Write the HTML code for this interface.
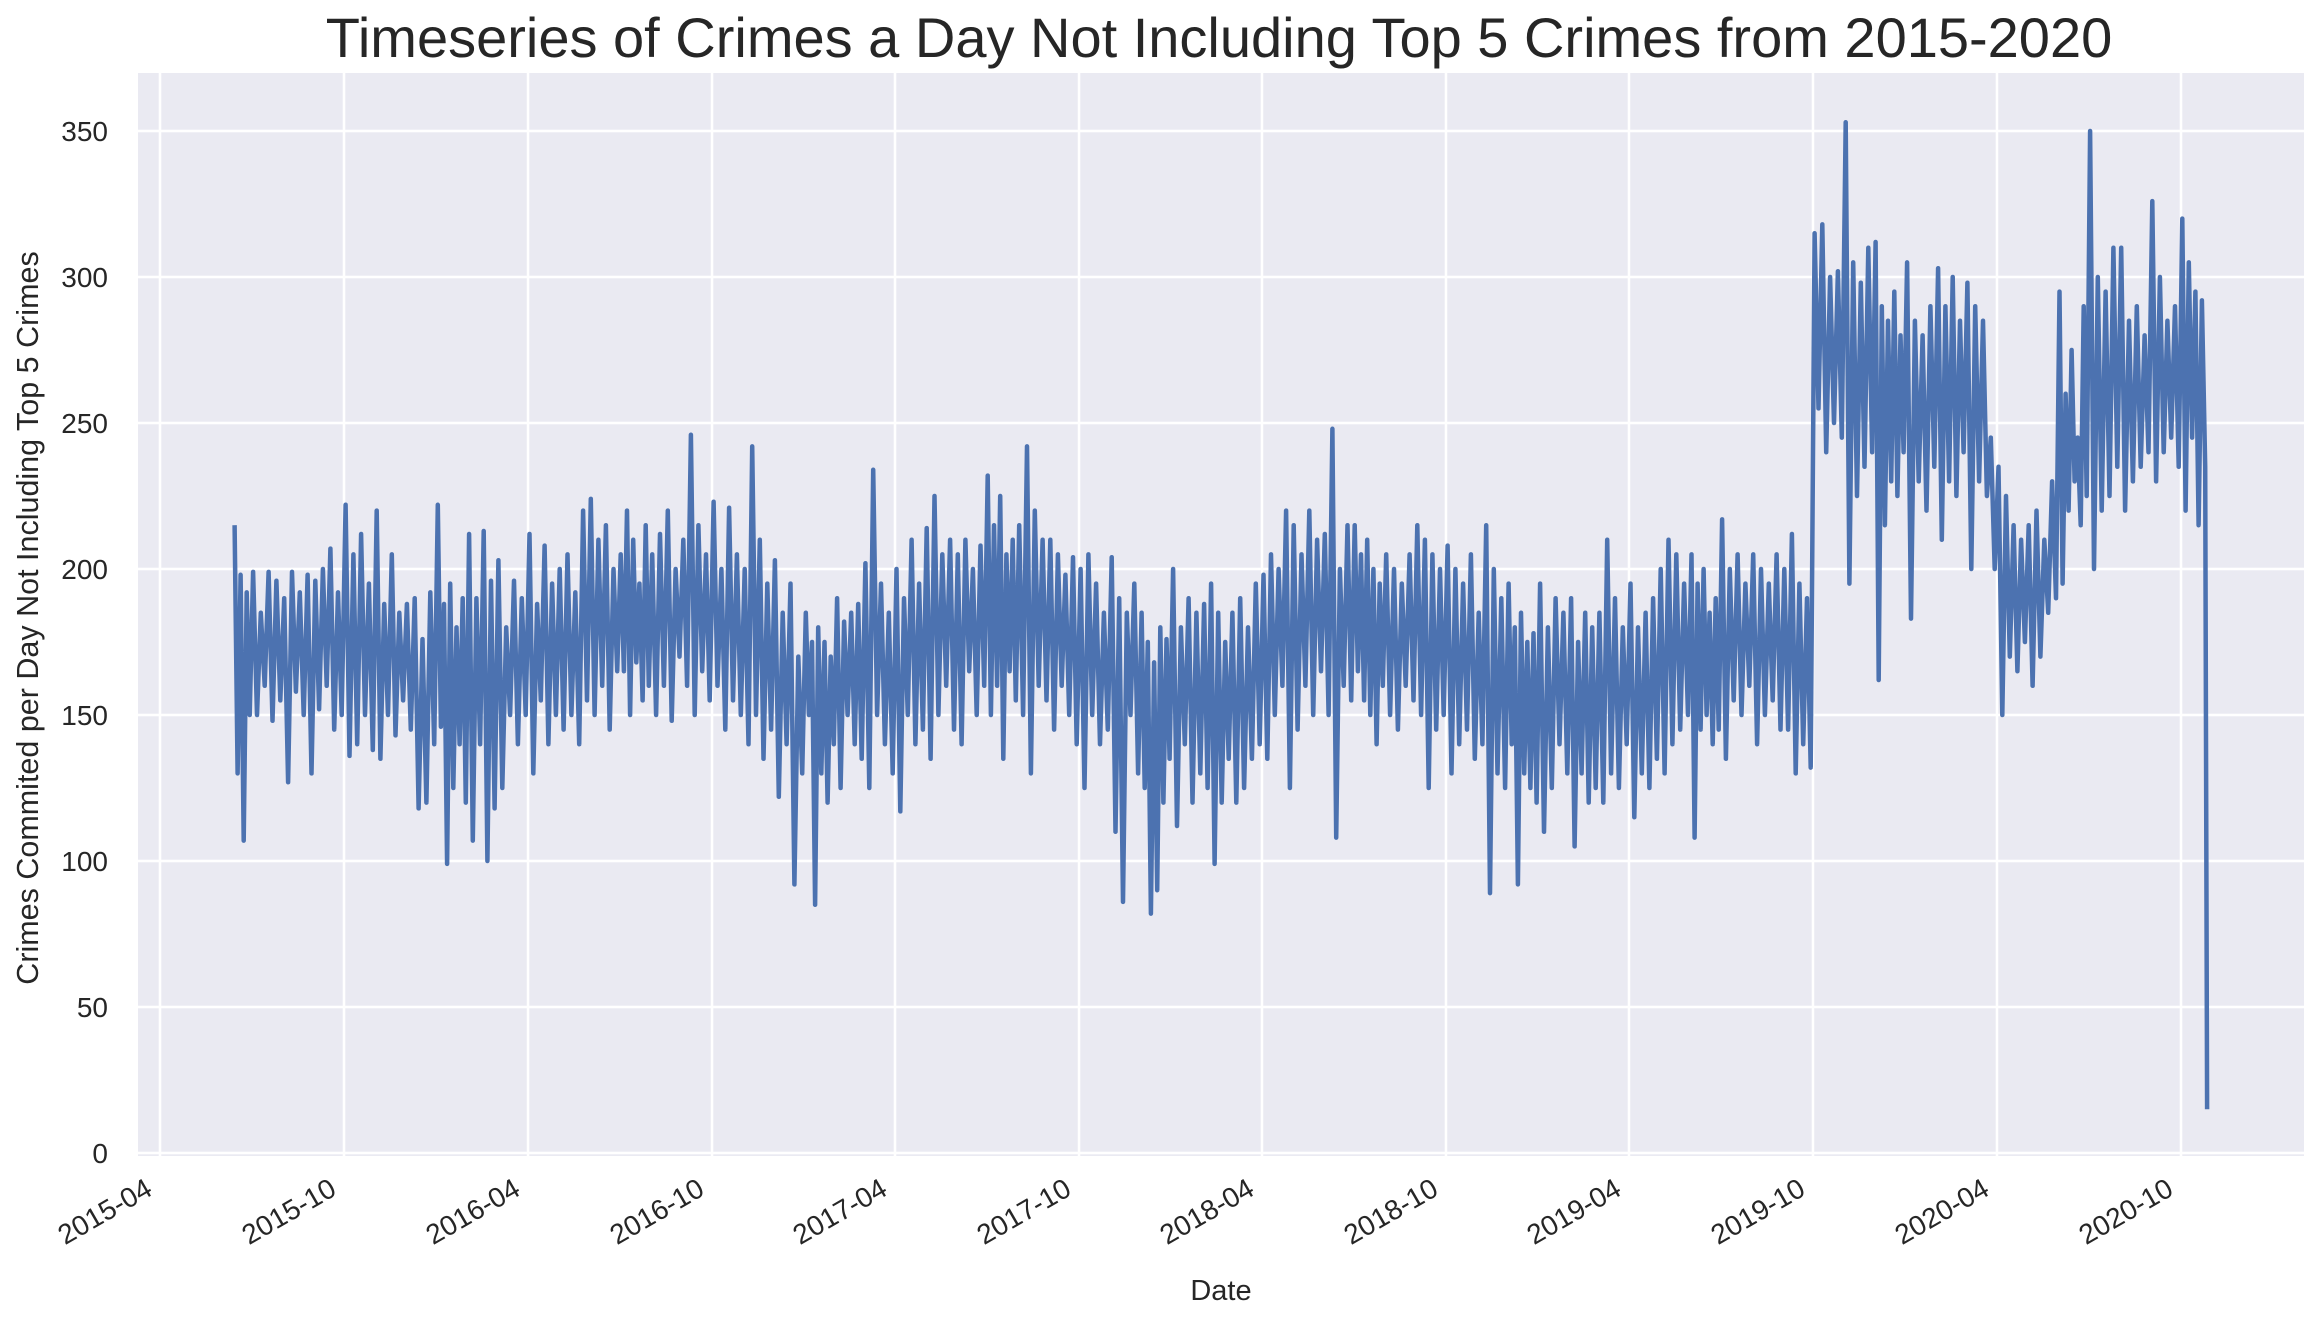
<!DOCTYPE html>
<html><head><meta charset="utf-8"><style>
html,body{margin:0;padding:0;background:#fff;}
svg{display:block;font-family:"Liberation Sans",sans-serif;}
</style></head><body>
<svg id="chart" width="2318" height="1322" viewBox="0 0 2318 1322" xmlns="http://www.w3.org/2000/svg">
<text x="1219" y="57" font-size="56" fill="#262626" text-anchor="middle">Timeseries of Crimes a Day Not Including Top 5 Crimes from 2015-2020</text>
<rect x="138" y="73" width="2166" height="1083" fill="#eaeaf2"/>
<g id="grid"></g>
<g id="ticks"></g>
<path id="series" fill="none" stroke="#4c72b0" stroke-width="4.5" stroke-linejoin="round"/>
<text x="1221" y="1300" font-size="29" fill="#262626" text-anchor="middle">Date</text>
<text x="0" y="0" font-size="30.5" fill="#262626" text-anchor="middle" transform="translate(38,618) rotate(-90)">Crimes Commited per Day Not Including Top 5 Crimes</text>
</svg>
<script>
const yTicks=[0,50,100,150,200,250,300,350];
const xTickLabels=["2015-04","2015-10","2016-04","2016-10","2017-04","2017-10","2018-04","2018-10","2019-04","2019-10","2020-04","2020-10"];
const months=["2015-06","2015-07","2015-08","2015-09","2015-10","2015-11","2015-12",
"2016-01","2016-02","2016-03","2016-04","2016-05","2016-06","2016-07","2016-08","2016-09","2016-10","2016-11","2016-12",
"2017-01","2017-02","2017-03","2017-04","2017-05","2017-06","2017-07","2017-08","2017-09","2017-10","2017-11","2017-12",
"2018-01","2018-02","2018-03","2018-04","2018-05","2018-06","2018-07","2018-08","2018-09","2018-10","2018-11","2018-12",
"2019-01","2019-02","2019-03","2019-04","2019-05","2019-06","2019-07","2019-08","2019-09","2019-10","2019-11","2019-12",
"2020-01","2020-02","2020-03","2020-04","2020-05","2020-06","2020-07","2020-08","2020-09","2020-10"];
const weeklyHigh=[
[215,198,192],[199,185,199,196],[190,199,192,198],[196,200,207,192],[222,205,212,195],[220,188,205,185],[188,190,176,192],
[222,188,195,180,190],[212,190,213,196],[203,180,196,190],[212,188,208,195],[200,205,192,220],[224,210,215,200],[205,220,210,195,215],[205,212,220,200],[210,246,215,205],[223,200,221,205],[200,242,210,195],[203,185,195,170],
[185,175,180,175,170],[190,182,185,188],[202,234,195,185],[200,190,210,195],[214,225,205,210],[205,210,200,208],[232,215,225,205,210],[215,242,220,210],[210,205,198,204],[200,205,195,185],[204,190,185,195],[185,175,168,180,176],
[200,180,190,185],[188,195,185,175],[185,190,180,195],[198,205,200,220],[215,205,220,210],[212,248,200,215],[215,205,210,200,195],[205,200,195,205],[215,210,205,200],[208,200,195,205],[185,215,200,190],[195,180,185,175,178],
[195,180,190,185],[190,175,185,180],[185,210,190,180],[195,180,185,190],[200,210,205,195],[205,195,200,185,190],[217,200,205,195],[205,200,195,205],[200,212,195,190],[315,318,300,302],[353,305,298,310],[312,290,285,295,280],
[305,285,280,290],[303,290,300,285],[298,290,285,245],[235,225,215,210],[215,220,210,230],[295,260,275,245,290],[350,300,295,310],[310,285,290,280],[326,300,285,290],[320,305,295,292]];
const weeklyLow=[
[130,107,150],[150,160,148,155],[127,158,150,130],[152,160,145,150],[136,140,150,138],[135,150,143,155],[145,118,120,140],
[146,99,125,140,120],[107,140,100,118],[125,150,140,150],[130,155,140,150],[145,150,140,155],[150,160,145,165],[165,150,168,155,160],[150,160,148,170],[160,150,165,155],[160,145,155,150],[140,150,135,145],[122,140,92,130],
[150,85,130,120,140],[125,150,140,135],[125,150,140,130],[117,150,140,145],[135,150,160,145],[140,165,150,160],[150,160,135,165,155],[150,130,160,155],[145,160,150,140],[125,150,140,145],[110,86,150,130],[125,82,90,120,135],
[112,140,120,130],[125,99,120,135],[120,125,135,140],[135,150,160,125],[145,160,150,165],[150,108,160,155],[165,155,150,140,160],[150,145,160,155],[150,125,145,150],[130,140,145,135],[140,89,130,125],[140,92,130,125,120],
[110,125,140,130],[105,130,120,125],[120,130,125,140],[115,130,125,135],[130,140,145,150],[108,145,150,140,145],[135,155,150,160],[140,150,155,145],[145,130,140,132],[255,240,250,245],[195,225,235,240],[162,215,230,225,240],
[183,230,220,235],[210,230,225,240],[200,230,225,200],[150,170,165,175],[160,170,185,190],[195,220,230,215,225],[200,220,225,235],[220,230,235,240],[230,240,245,235],[220,245,215,235]];
const finalDate="2020-10-27";
const finalValue=15;

const X0=160, PXPERDAY=(2181-160)/2010;
const ORIGIN=Date.UTC(2015,3,1);
function dayOf(s){const p=s.split("-").map(Number);return (Date.UTC(p[0],p[1]-1,p[2]||1)-ORIGIN)/86400000;}
function xScale(d){return X0+d*PXPERDAY;}
function yScale(v){return 1153-v*146/50;}
const NS="http://www.w3.org/2000/svg";
const grid=document.getElementById("grid"), ticks=document.getElementById("ticks");
yTicks.forEach(v=>{
  const l=document.createElementNS(NS,"line");
  l.setAttribute("x1",138);l.setAttribute("x2",2304);l.setAttribute("y1",yScale(v));l.setAttribute("y2",yScale(v));
  l.setAttribute("stroke","#fff");l.setAttribute("stroke-width","2.5");
  
  
  grid.appendChild(l);
  const t=document.createElementNS(NS,"text");
  t.setAttribute("x",108);t.setAttribute("y",yScale(v)+10);t.setAttribute("font-size","28");t.setAttribute("fill","#262626");t.setAttribute("text-anchor","end");
  t.textContent=v;
  
  
  ticks.appendChild(t);
});
xTickLabels.forEach(s=>{
  const x=xScale(dayOf(s));
  const l=document.createElementNS(NS,"line");
  l.setAttribute("x1",x);l.setAttribute("x2",x);l.setAttribute("y1",73);l.setAttribute("y2",1156);
  l.setAttribute("stroke","#fff");l.setAttribute("stroke-width","2.5");
  
  
  grid.appendChild(l);
  const t=document.createElementNS(NS,"text");
  t.setAttribute("font-size","28");t.setAttribute("fill","#262626");t.setAttribute("text-anchor","end");
  t.setAttribute("transform","translate("+(x-6)+",1194) rotate(-30)");
  t.textContent=s;
  
  
  ticks.appendChild(t);
});
let pts=[];
months.forEach((m,i)=>{
  let start=dayOf(m), next;
  if(i===0) start=dayOf("2015-06-13");
  if(i<months.length-1) next=dayOf(months[i+1]); else next=dayOf(finalDate);
  const len=next-start, hi=weeklyHigh[i], lo=weeklyLow[i], n=hi.length;
  for(let k=0;k<n;k++){
    pts.push([xScale(start+(k+0.2)*len/n),yScale(hi[k])]);
    pts.push([xScale(start+(k+0.7)*len/n),yScale(lo[k])]);
  }
});
pts.push([xScale(dayOf(finalDate)),yScale(finalValue)]);
document.getElementById("series").setAttribute("d","M"+pts.map(p=>p[0].toFixed(1)+","+p[1].toFixed(1)).join("L"));
</script>
</body></html>
